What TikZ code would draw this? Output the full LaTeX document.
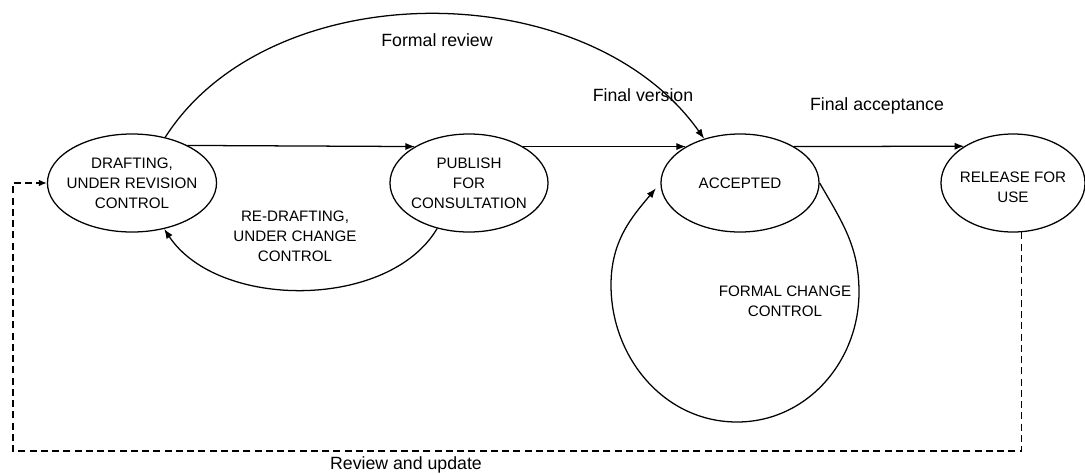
\documentclass[tikz,border=0pt]{standalone}
\usepackage{fontspec}
\setmainfont{Liberation Sans}
\usetikzlibrary{arrows.meta}
\usetikzlibrary{shapes.geometric}
\usetikzlibrary{positioning}

\begin{document}
\begin{tikzpicture}[x=0.025cm, y=-0.025cm,
    state/.style={draw, ellipse, line width=0.9pt, minimum width=3.95cm, minimum height=2.45cm,
      inner xsep=-4pt, inner ysep=0pt, align=center, font=\fontsize{10.8}{14.2}\selectfont},
    lbl/.style={align=center, font=\fontsize{12.6}{15}\selectfont},
    caps/.style={align=center, font=\fontsize{10.8}{14.2}\selectfont},
    flow/.style={-{Latex[length=2.4mm,width=1.8mm]}, line width=0.9pt}]
  \useasboundingbox (0,0) rectangle (1085,474);
  \node [state] (draft) at (132,183) {DRAFTING,\\UNDER REVISION\\CONTROL};
  \node [state] (pub) at (469,183) {PUBLISH\\FOR\\CONSULTATION};
  \node [state] (acc) at (740,183) {ACCEPTED};
  \node [state, minimum width=3.6cm] (rel) at (1013,183) {\mbox{}\\RELEASE FOR\\USE};
  \coordinate (corner) at (13,451);

  \draw [flow] (draft.34) -- (pub.146);
  \draw [flow] (pub.34) -- (acc.146);
  \draw [flow] (acc.34) -- (rel.143.6);
  \draw [flow] (draft.54) .. controls (270,-27) and (587,-27) .. (acc.129);
  \draw [flow] (pub.235) .. controls (389,310) and (218,310) .. (draft.305);
  \draw [flow, shorten >=5pt] (acc.east) to[out=-60,in=90] (859,292) to[out=-90,in=0] (737,422)
    to[out=180,in=-90] (611,285) to[out=90,in=-130] (acc.west);
  \draw [-{Latex[length=2mm,width=1.6mm]}, line width=0.8pt, dash pattern=on 5pt off 3pt]
    (rel.-80) -- (rel.-80 |- corner) -- (corner) |- (draft.west);

  \node [lbl] (frev) at (437,40) {Formal review};
  \node [lbl] (fver) at (643,95) {Final version};
  \node [lbl] (facc) at (877,106) {Final acceptance};
  \node [caps] (redraft) at (295,236) {RE-DRAFTING,\\UNDER CHANGE\\CONTROL};
  \node [caps] (fcc) at (785,301) {FORMAL CHANGE\\CONTROL};
  \node [lbl] (rev) at (406,465) {Review and update};
\end{tikzpicture}
\end{document}
